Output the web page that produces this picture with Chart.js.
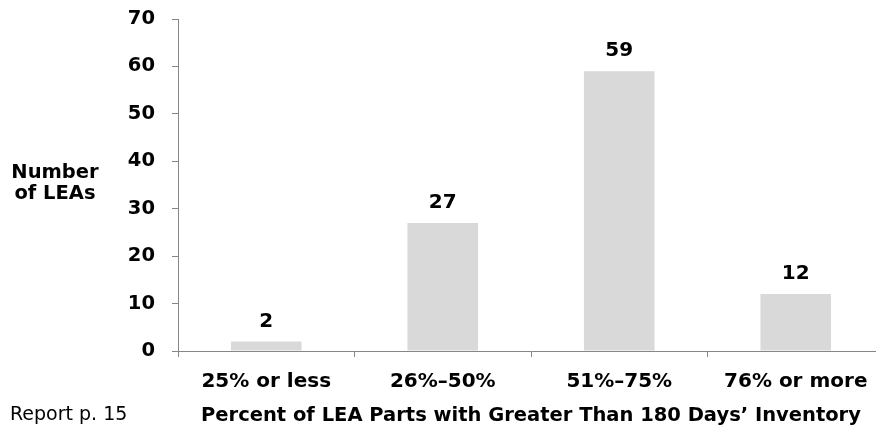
<!DOCTYPE html>
<html>
<head>
<meta charset="utf-8">
<script src="https://cdn.jsdelivr.net/npm/chart.js@4/dist/chart.umd.min.js"></script>
<style>
html,body{margin:0;padding:0;background:#fff;overflow:hidden;width:876px;height:433px;}
#wrap{width:900px;height:433px;position:relative;}
</style>
</head>
<body>
<div id="wrap"><canvas id="c" width="900" height="433"></canvas></div>
<script>
const categories = ["25% or less", "26%\u201350%", "51%\u201375%", "76% or more"];
const values = [2, 27, 59, 12];
const yTicks = [0, 10, 20, 30, 40, 50, 60, 70];
const xTitle = "Percent of LEA Parts with Greater Than 180 Days\u2019 Inventory";
const yTitleLines = ["Number", "of LEAs"];
const footnote = "Report p. 15";

const FONT = "'DejaVu Sans', sans-serif";
const AXIS = "#868686";

const labelPlugin = {
  id: 'extras',
  afterDatasetsDraw(chart) {
    const ctx = chart.ctx;
    const meta = chart.getDatasetMeta(0);
    ctx.save();
    ctx.fillStyle = '#000';
    ctx.font = "bold 20px " + FONT;
    ctx.textAlign = 'center';
    ctx.textBaseline = 'middle';
    meta.data.forEach((bar, i) => {
      ctx.fillText(String(values[i]), bar.x, bar.y - 20);
    });
    // y title, horizontal
    const yc = chart.scales.y.getPixelForValue(35);
    ctx.font = "bold 19.5px " + FONT;
    ctx.fillText(yTitleLines[0], 55, yc - 12);
    ctx.fillText(yTitleLines[1], 55, yc + 9);
    // footnote
    ctx.font = "19px " + FONT;
    ctx.textAlign = 'left';
    ctx.fillText(footnote, 10, 415);
    ctx.restore();
  }
};

new Chart(document.getElementById('c'), {
  type: 'bar',
  data: {
    labels: categories,
    datasets: [{
      data: values,
      backgroundColor: '#d9d9d9',
      borderWidth: 0,
      barPercentage: 0.4,
      categoryPercentage: 1.0
    }]
  },
  options: {
    responsive: false,
    animation: false,
    devicePixelRatio: 1,
    layout: { padding: { top: 19, right: 16, left: 0, bottom: 0 } },
    plugins: { legend: { display: false }, tooltip: { enabled: false } },
    scales: {
      y: {
        min: 0, max: 70,
        afterFit(s) { s.width = 178; s.paddingTop = 0; s.paddingBottom = 0; },
        afterBuildTicks(s) { s.ticks = yTicks.map(v => ({ value: v })); },
        border: { display: true, color: AXIS, width: 1 },
        grid: { display: true, drawOnChartArea: false, drawTicks: true, tickLength: 6, color: AXIS },
        ticks: { color: '#000', font: { family: FONT, size: 19.5, weight: 'bold' }, padding: 17 }
      },
      x: {
        afterFit(s) { s.height = 82; },
        border: { display: true, color: AXIS, width: 1 },
        grid: { display: true, drawOnChartArea: false, drawTicks: true, tickLength: 6, color: AXIS, offset: true },
        ticks: { color: '#000', font: { family: FONT, size: 20, weight: 'bold' }, padding: 13, maxRotation: 0 },
        title: { display: true, text: xTitle, color: '#000', font: { family: FONT, size: 19.5, weight: 'bold' }, padding: { top: 0, bottom: 5 } }
      }
    }
  },
  plugins: [labelPlugin]
});
</script>
</body>
</html>
